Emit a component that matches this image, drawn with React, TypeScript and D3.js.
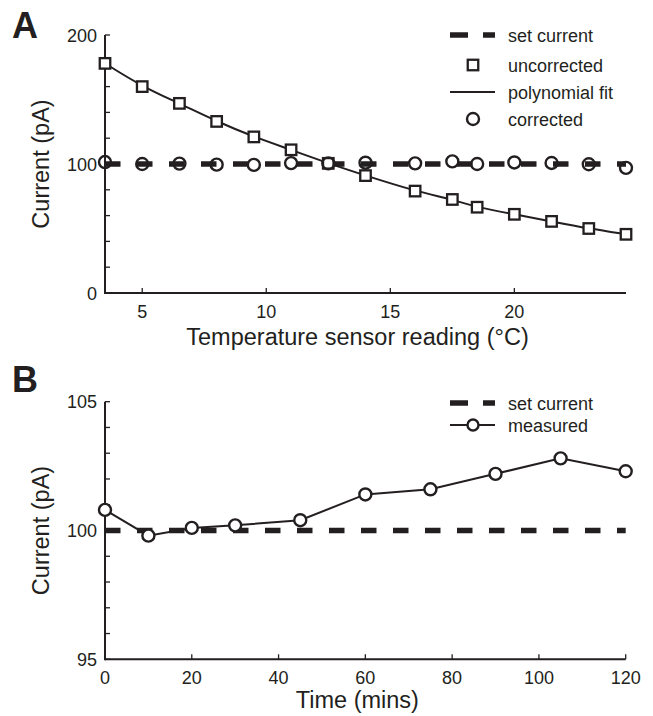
import React from "react";
import * as d3 from "d3";

// ---------- Data ----------
const tempReadings = [3.5, 5, 6.5, 8, 9.5, 11, 12.5, 14, 16, 17.5, 18.5, 20, 21.5, 23, 24.5];
const uncorrected = [178, 160, 147, 133, 121, 111, 100.5, 91, 79, 72.5, 66.5, 61, 55.5, 50, 45.5];
const corrected = [101.5, 100, 100.3, 99.5, 99.3, 100.7, 100.5, 101, 100.5, 102, 100, 101.2, 100.8, 99.8, 97];
const setCurrent = 100;

const timeMins = [0, 10, 20, 30, 45, 60, 75, 90, 105, 120];
const measured = [100.8, 99.8, 100.1, 100.2, 100.4, 101.4, 101.6, 102.2, 102.8, 102.3];

const xTicksA = [5, 10, 15, 20];
const yLabelsA = [0, 100, 200];
const xTicksB = [0, 20, 40, 60, 80, 100, 120];
const yLabelsB = [95, 100, 105];

const legendA = ["set current", "uncorrected", "polynomial fit", "corrected"];
const legendB = ["set current", "measured"];

// ---------- Styles ----------
const INK = "#231f20";
const FONT = "'Liberation Sans', Arial, Helvetica, sans-serif";
const TICK_FS = 18;
const TITLE_FS = 23.5;
const LEG_FS = 18;
const DASH = "15.5,16.5";

const xA = d3.scaleLinear().domain([3.5, 24.5]).range([105, 626]);
const yA = d3.scaleLinear().domain([0, 200]).range([293, 35]);
const xB = d3.scaleLinear().domain([0, 120]).range([105, 625.7]);
const yB = d3.scaleLinear().domain([95, 105]).range([659.3, 401.7]);

function Axes({ x, y, xTicks, yLabels, xTitle, xTitleDy, xTickDy }: any) {
  const [x0, x1] = x.range();
  const [yb, yt] = y.range();
  const minor = y.ticks(10);
  return (
    <g>
      <line x1={x0} x2={x1} y1={yb} y2={yb} stroke={INK} strokeWidth={2} />
      <line x1={x0} x2={x0} y1={yb + 1} y2={yt} stroke={INK} strokeWidth={2} />
      {minor.map((t: number) => (
        <line key={"ym" + t} x1={x0} x2={x0 + 5} y1={y(t)} y2={y(t)} stroke={INK} strokeWidth={1.3} />
      ))}
      {xTicks.map((t: number) => (
        <line key={"xt" + t} x1={x(t)} x2={x(t)} y1={yb} y2={yb - 5} stroke={INK} strokeWidth={1.3} />
      ))}
      {yLabels.map((t: number) => (
        <text key={"yl" + t} x={x0 - 8} y={y(t) + 6.5} textAnchor="end" fontSize={TICK_FS} fill={INK}>
          {t}
        </text>
      ))}
      {xTicks.map((t: number) => (
        <text key={"xl" + t} x={x(t)} y={yb + xTickDy} textAnchor="middle" fontSize={TICK_FS} fill={INK}>
          {t}
        </text>
      ))}
      <text
        x={(x0 + x1) / 2 - 8}
        y={yb + xTitleDy}
        textAnchor="middle"
        fontSize={TITLE_FS}
        fill={INK}
      >
        {xTitle}
      </text>
      <text
        transform={`translate(49,${(yb + yt) / 2}) rotate(-90)`}
        textAnchor="middle"
        fontSize={TITLE_FS}
        fill={INK}
      >
        Current (pA)
      </text>
    </g>
  );
}

export default function App() {
  const fitLine = d3
    .line<number>()
    .x((_, i) => xA(tempReadings[i]))
    .y((d) => yA(d))
    .curve(d3.curveBasis)(uncorrected) as string;

  const measLine = d3
    .line<number>()
    .x((_, i) => xB(timeMins[i]))
    .y((d) => yB(d))(measured) as string;

  const sq = 10.5;
  const legRowsA = [35, 65, 92, 119];
  const legRowsB = [403, 425];
  const lx0 = 450;
  const lx1 = 495;
  const lc = 473;
  const tx = 508;

  return (
    <svg
      width={653}
      height={716}
      style={{ position: "absolute", left: 0, top: 0, background: "#fff" }}
      fontFamily={FONT}
    >
      <rect width={653} height={716} fill="#fff" />

      {/* Panel A */}
      <text x={12} y={37.5} fontSize={36} fontWeight="bold" fill={INK}>A</text>
      <Axes x={xA} y={yA} xTicks={xTicksA} yLabels={yLabelsA} xTitle="Temperature sensor reading (°C)" xTitleDy={51.5} xTickDy={25} />

      <line
        x1={xA.range()[0]}
        x2={xA.range()[1]}
        y1={yA(setCurrent)}
        y2={yA(setCurrent)}
        stroke={INK}
        strokeWidth={5.5}
        strokeDasharray={DASH}
      />
      <path d={fitLine} fill="none" stroke={INK} strokeWidth={2} />
      {uncorrected.map((v, i) => (
        <rect
          key={"sq" + i}
          x={xA(tempReadings[i]) - sq / 2}
          y={yA(v) - sq / 2}
          width={sq}
          height={sq}
          fill="#fff"
          stroke={INK}
          strokeWidth={2.3}
        />
      ))}
      {corrected.map((v, i) => (
        <circle key={"c" + i} cx={xA(tempReadings[i])} cy={yA(v)} r={6} fill="none" stroke={INK} strokeWidth={2.4} />
      ))}

      {/* Legend A */}
      <line x1={lx0} x2={lx1} y1={legRowsA[0]} y2={legRowsA[0]} stroke={INK} strokeWidth={5.5} strokeDasharray="18,15" />
      <rect x={lc - sq / 2} y={legRowsA[1] - sq / 2} width={sq} height={sq} fill="#fff" stroke={INK} strokeWidth={2.3} />
      <line x1={lx0} x2={lx1} y1={legRowsA[2]} y2={legRowsA[2]} stroke={INK} strokeWidth={2} />
      <circle cx={lc} cy={legRowsA[3]} r={6} fill="none" stroke={INK} strokeWidth={2.4} />
      {legendA.map((t, i) => (
        <text key={"la" + i} x={tx} y={legRowsA[i] + 6.5} fontSize={LEG_FS} fill={INK}>
          {t}
        </text>
      ))}

      {/* Panel B */}
      <text x={12} y={391.7} fontSize={36} fontWeight="bold" fill={INK}>B</text>
      <Axes x={xB} y={yB} xTicks={xTicksB} yLabels={yLabelsB} xTitle="Time (mins)" xTitleDy={48.5} xTickDy={25} />

      <line
        x1={xB.range()[0]}
        x2={xB.range()[1]}
        y1={yB(setCurrent)}
        y2={yB(setCurrent)}
        stroke={INK}
        strokeWidth={5.5}
        strokeDasharray={DASH}
      />
      <path d={measLine} fill="none" stroke={INK} strokeWidth={2} />
      {measured.map((v, i) => (
        <circle key={"m" + i} cx={xB(timeMins[i])} cy={yB(v)} r={6} fill="#fff" stroke={INK} strokeWidth={2.4} />
      ))}

      {/* Legend B */}
      <line x1={lx0} x2={lx1} y1={legRowsB[0]} y2={legRowsB[0]} stroke={INK} strokeWidth={5.5} strokeDasharray="18,15" />
      <line x1={lx0} x2={lx1} y1={legRowsB[1]} y2={legRowsB[1]} stroke={INK} strokeWidth={2} />
      <circle cx={lc} cy={legRowsB[1]} r={5.5} fill="#fff" stroke={INK} strokeWidth={2.4} />
      {legendB.map((t, i) => (
        <text key={"lb" + i} x={tx} y={legRowsB[i] + 6.5} fontSize={LEG_FS} fill={INK}>
          {t}
        </text>
      ))}
    </svg>
  );
}
